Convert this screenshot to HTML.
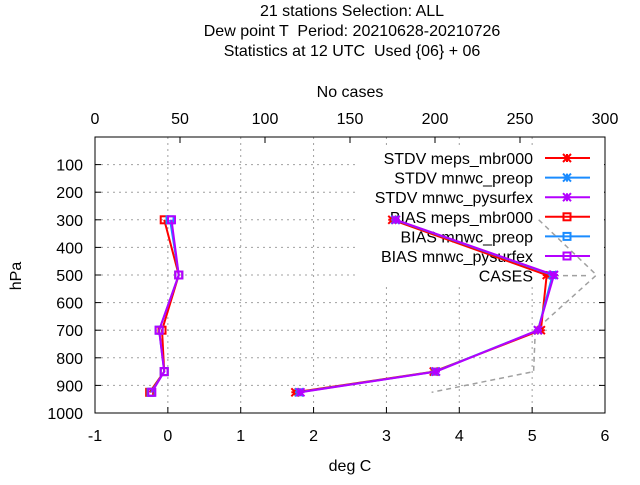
<!DOCTYPE html>
<html><head><meta charset="utf-8"><style>
body{margin:0;background:#fff}
svg{font-family:"Liberation Sans",sans-serif;font-size:16px}
text{white-space:pre}
</style></head><body>
<svg id="chart" width="640" height="480">
<g text-anchor="middle">
<text x="352" y="16" xml:space="preserve">21 stations Selection: ALL</text>
<text x="352" y="36" xml:space="preserve">Dew point T  Period: 20210628-20210726</text>
<text x="352" y="56" xml:space="preserve">Statistics at 12 UTC  Used {06} + 06</text>
</g>
<text x="350" y="97" text-anchor="middle">No cases</text>
<text x="350" y="471" text-anchor="middle">deg C</text>
<text x="21" y="276" text-anchor="middle" transform="rotate(-90 21 276)">hPa</text>
<g id="grid"></g>
<g id="ticks"></g>
<g id="legend"></g>
<g id="series"></g>
<rect x="95" y="137" width="510" height="276" fill="none" stroke="#000"/>
</svg>
<script>
const levels=[300,500,700,850,925];
const stdvMeps=[3.08,5.2,5.12,3.65,1.75];
const stdvPreop=[3.12,5.28,5.08,3.67,1.8];
const stdvPys=[3.13,5.3,5.08,3.68,1.82];
const biasMeps=[-0.05,0.15,-0.08,-0.05,-0.25];
const biasPreop=[0.03,0.15,-0.12,-0.05,-0.23];
const biasPys=[0.05,0.15,-0.12,-0.05,-0.22];
const cases=[261,295,259,258,198];
const xTicks=[-1,0,1,2,3,4,5,6];
const x2Ticks=[0,50,100,150,200,250,300];
const yTicks=[100,200,300,400,500,600,700,800,900,1000];
const L=95,R=605,T=137,B=413;
const xs=v=>L+(v+1)/7*(R-L);
const x2s=v=>L+v/300*(R-L);
const ys=p=>T+p/1000*(B-T);
const NS="http://www.w3.org/2000/svg";
function mk(tag,attrs,parent){const e=document.createElementNS(NS,tag);for(const k in attrs)e.setAttribute(k,attrs[k]);parent.appendChild(e);return e;}
const grid=document.getElementById('grid'),ticks=document.getElementById('ticks'),ser=document.getElementById('series'),leg=document.getElementById('legend');
xTicks.forEach(v=>{const x=xs(v);
 if(v>-1&&v<6){const g=mk('line',{x1:x,x2:x,y1:T,y2:B,stroke:'#a0a0a0','stroke-dasharray':'2,4'},grid);}
 const t=mk('text',{x:x,y:B+28,'text-anchor':'middle'},ticks);t.textContent=v;
 
 mk('line',{x1:x,x2:x,y1:B,y2:B-6,stroke:'#000'},ticks);});
x2Ticks.forEach(v=>{const x=x2s(v);
 const t=mk('text',{x:x,y:T-13,'text-anchor':'middle'},ticks);t.textContent=v;
 
 mk('line',{x1:x,x2:x,y1:T,y2:T+6,stroke:'#000'},ticks);});
yTicks.forEach(v=>{const y=ys(v);
 if(v<1000){const g=mk('line',{x1:L,x2:R,y1:y,y2:y,stroke:'#a0a0a0','stroke-dasharray':'2,4'},grid);}
 const t=mk('text',{x:L-12,y:y+6,'text-anchor':'end'},ticks);t.textContent=v;
 
 mk('line',{x1:L,x2:L+6,y1:y,y2:y,stroke:'#000'},ticks);mk('line',{x1:R,x2:R-6,y1:y,y2:y,stroke:'#000'},ticks);});
mk('rect',{x:355,y:145,width:249,height:140,fill:'#fff'},leg);
function star(x,y,c,p){mk('path',{d:`M${x-4} ${y-4}L${x+4} ${y+4}M${x-4} ${y+4}L${x+4} ${y-4}M${x-4} ${y}L${x+4} ${y}M${x} ${y-4}L${x} ${y+4}`,stroke:c,'stroke-width':2},p);}
function sq(x,y,c,p){mk('rect',{x:x-3.5,y:y-3.5,width:7,height:7,fill:'none',stroke:c,'stroke-width':2},p);}
function draw(vals,scale,color,marker,name){
 const g=mk('g',{},ser);
 const pts=vals.map((v,i)=>[scale(v),ys(levels[i])]);
 mk('polyline',{points:pts.map(p=>p.join(',')).join(' '),fill:'none',stroke:color,'stroke-width':marker?2:1.5,'stroke-dasharray':marker?'none':'5,4'},g);
 if(marker)pts.forEach(p=>marker(p[0],p[1],color,g));}
const red='#ff0000',blue='#1a8cff',purple='#b400ff';
draw(cases,x2s,'#a0a0a0',null,'series-cases');
draw(stdvMeps,xs,red,star,'series-stdv-meps');
draw(stdvPreop,xs,blue,star,'series-stdv-preop');
draw(stdvPys,xs,purple,star,'series-stdv-pysurfex');
draw(biasMeps,xs,red,sq,'series-bias-meps');
draw(biasPreop,xs,blue,sq,'series-bias-preop');
draw(biasPys,xs,purple,sq,'series-bias-pysurfex');
const items=[['STDV meps_mbr000',red,star],['STDV mnwc_preop',blue,star],['STDV mnwc_pysurfex',purple,star],['BIAS meps_mbr000',red,sq],['BIAS mnwc_preop',blue,sq],['BIAS mnwc_pysurfex',purple,sq],['CASES','#a0a0a0',null]];
items.forEach((it,i)=>{const y=158+i*19.6;
 const g=mk('g',{},leg);
 const t=mk('text',{x:533,y:y+6,'text-anchor':'end'},g);t.textContent=it[0];
 mk('line',{x1:545,x2:590,y1:y,y2:y,stroke:it[1],'stroke-width':it[2]?2:1.5,'stroke-dasharray':it[2]?'none':'5,4'},g);
 if(it[2])it[2](567,y,it[1],g);});
</script>
</body></html>
